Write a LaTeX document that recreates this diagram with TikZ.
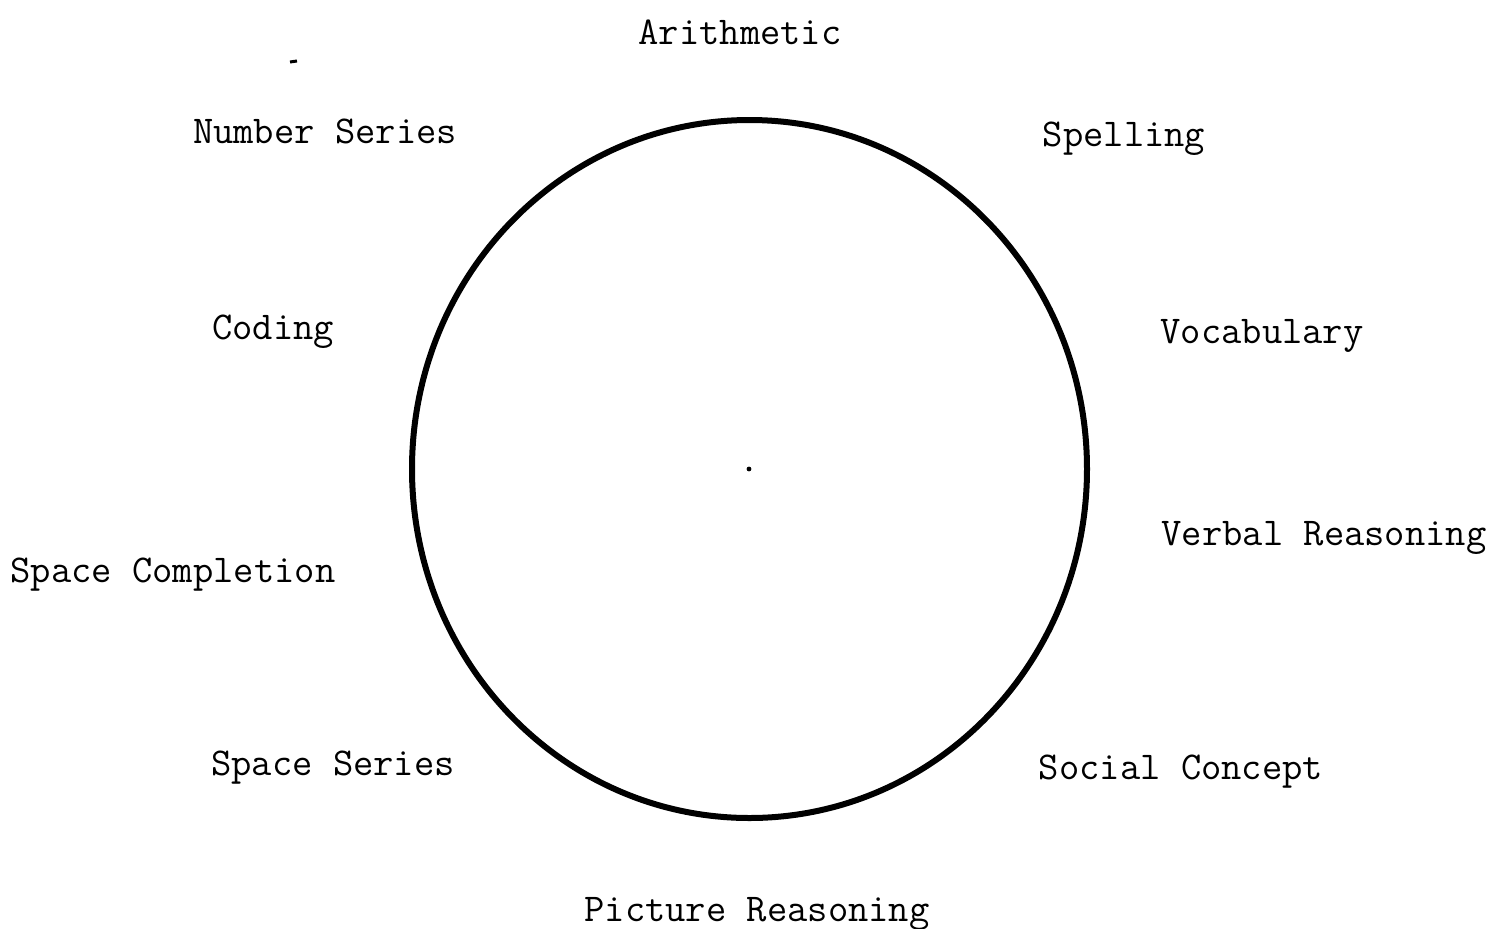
\documentclass[tikz,border=0pt]{standalone}
\usepackage{fontspec}
\usetikzlibrary{shapes.geometric}
\begin{document}
\begin{tikzpicture}[x=0.5pt,y=-0.5pt,
  lbl/.style={anchor=base,inner sep=0pt,font=\ttfamily\fontsize{19.7pt}{19.7pt}\selectfont}]
\useasboundingbox (0,0) rectangle (1490,928);
\node[draw,ellipse,line width=3pt,minimum width=337.5pt,minimum height=349pt,inner sep=0pt] (ring) at (749.5,469) {};
\fill (749,469) circle (1.2pt);
\draw[line width=1.5pt] (290,62) -- (297,61);
\node[lbl] (arith) at (740,44.5) {Arithmetic};
\node[lbl] (numser) at (325,143.5) {Number Series};
\node[lbl] (spell) at (1124,146) {Spelling};
\node[lbl] (coding) at (273,339) {Coding};
\node[lbl] (vocab) at (1262,343) {Vocabulary};
\node[lbl] (verbal) at (1324,545) {Verbal Reasoning};
\node[lbl] (spcomp) at (173,582) {Space Completion};
\node[lbl] (spser) at (333,775) {Space Series};
\node[lbl] (social) at (1181,779) {Social Concept};
\node[lbl] (picture) at (757,921) {Picture Reasoning};
\end{tikzpicture}
\end{document}
